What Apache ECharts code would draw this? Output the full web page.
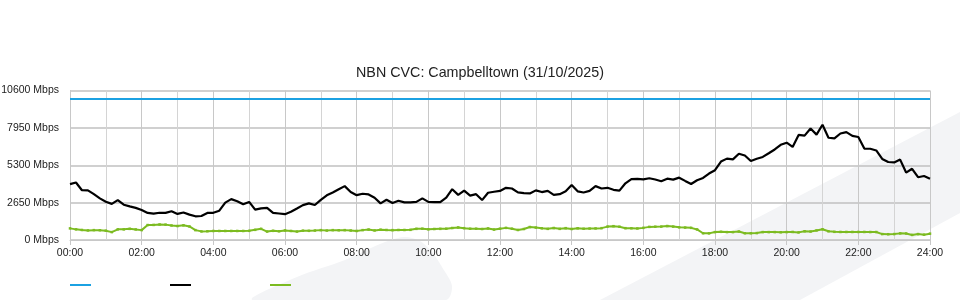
<!DOCTYPE html>
<html>
<head>
<meta charset="utf-8">
<script src="https://cdn.jsdelivr.net/npm/echarts@6/dist/echarts.min.js"></script>
<style>
html,body{margin:0;padding:0;background:#fff;}
#chart{width:960px;height:300px;}
</style>
</head>
<body>
<div id="chart"></div>
<script>
const titleText = 'NBN CVC: Campbelltown (31/10/2025)';
const seriesNames = ['Capacity', 'Inbound', 'Outbound'];
const xTickLabels = ['00:00','02:00','04:00','06:00','08:00','10:00','12:00','14:00','16:00','18:00','20:00','22:00','24:00'];
const yTickLabels = ['0 Mbps','2650 Mbps','5300 Mbps','7950 Mbps','10600 Mbps'];
const stepMinutes = 10;
const capacity = [10000, 10000];
const capacityTimes = [0, 1440];
// inbound Mbps, every 10 minutes from 00:00 to 24:00
const inbound = [
3960,4080,3530,3520,3250,2950,
2710,2560,2830,2500,2380,2280,
2130,1920,1870,1930,1920,2040,
1850,1950,1800,1680,1700,1920,
1930,2080,2650,2900,2750,2530,
2700,2150,2240,2280,1920,1880,
1830,2000,2230,2470,2600,2480,
2850,3170,3370,3600,3820,3400,
3180,3280,3230,3000,2600,2850,
2620,2780,2670,2670,2700,2950,
2700,2680,2680,3000,3600,3200,
3500,3150,3250,2830,3350,3420,
3480,3700,3650,3380,3330,3300,
3520,3400,3480,3200,3250,3450,
3900,3450,3370,3480,3820,3650,
3700,3560,3500,4020,4320,4330,
4300,4380,4290,4170,4350,4280,
4420,4190,3970,4240,4400,4710,
4950,5560,5770,5720,6120,5990,
5600,5760,5890,6150,6420,6750,
6900,6600,7450,7400,7900,7470,
8170,7250,7200,7550,7650,7380,
7300,6480,6470,6350,5750,5530,
5500,5700,4780,5050,4450,4540,
4350];
// outbound Mbps, every 10 minutes
const outbound = [
824,754,710,680,700,690,
660,560,754,754,790,750,
700,1060,1070,1100,1090,1030,
990,1040,960,700,610,620,
640,640,640,640,640,640,
650,720,790,600,650,620,
680,640,600,660,650,670,
700,670,700,690,700,670,
640,700,740,680,730,710,
700,710,710,720,790,800,
760,780,790,800,850,890,
840,800,800,780,820,740,
800,860,800,710,780,920,
880,830,790,850,790,840,
780,830,800,810,820,840,
950,980,940,840,830,820,
860,930,940,950,990,950,
900,880,860,750,480,470,
560,580,560,560,600,480,
480,490,560,560,560,550,
560,570,540,620,600,680,
760,620,580,570,570,570,
570,570,565,565,420,410,
420,470,460,360,420,380,
450];

const colors = ['#1ba1e2', '#000000', '#7cbb21'];
const toPairs = (vals) => vals.map((v, i) => [i * stepMinutes, v]);
const capPairs = capacity.map((v, i) => [capacityTimes[i], v]);

const chart = echarts.init(document.getElementById('chart'), null, {renderer: 'canvas'});
const font = '"Liberation Sans", Arial, sans-serif';
chart.setOption({
  animation: false,
  backgroundColor: '#ffffff',
  title: {
    text: titleText, left: 'center', top: 61,
    textStyle: {fontFamily: font, fontSize: 14.3, fontWeight: 'normal', color: '#222'}
  },
  graphic: {elements: [
    {type: 'polygon', z: -100, silent: true,
     shape: {points: [[600,300],[960,112],[960,213],[800,300]]},
     style: {fill: '#f3f4f6'}},
    {type: 'polygon', z: -100, silent: true,
     shape: {points: [[253,300],[297,277],[345,260],[380,244],[404,237],[420,241],[432,252],[442,267],[452,286],[446,300]], smooth: 0.3},
     style: {fill: '#f3f4f6'}}
  ]},
  legend: {
    left: 65, top: 279, itemWidth: 21, itemHeight: 2, itemGap: 79, icon: 'rect',
    formatter: () => '', selectedMode: false,
    data: seriesNames.map((n, i) => ({name: n, itemStyle: {color: colors[i]}}))
  },
  grid: {left: 70, right: 30, top: 90.5, bottom: 60, containLabel: false, outerBoundsMode: 'none'},
  xAxis: {
    type: 'value', min: 0, max: 1440, interval: 120,
    axisLine: {show: true, lineStyle: {color: '#c8c8c8'}},
    axisTick: {show: true, length: 5, lineStyle: {color: '#c8c8c8'}},
    axisLabel: {margin: 8, fontFamily: font, fontSize: 10.5, color: '#222',
      formatter: (v) => xTickLabels[Math.round(v / 120)]},
    splitLine: {show: true, lineStyle: {color: '#c8c8c8', width: 1}},
    minorTick: {show: false, splitNumber: 2},
    minorSplitLine: {show: true, lineStyle: {color: '#d4d4d4', width: 1}}
  },
  yAxis: {
    type: 'value', min: 0, max: 10600, interval: 2650,
    axisLine: {show: true, lineStyle: {color: '#c8c8c8'}},
    axisTick: {show: false},
    axisLabel: {margin: 11, fontFamily: font, fontSize: 10.5, color: '#222',
      formatter: (v) => yTickLabels[Math.round(v / 2650)]},
    splitLine: {show: true, lineStyle: {color: '#c0c0c0', width: 1.5}}
  },
  series: [
    {name: seriesNames[0], type: 'line', data: capPairs, showSymbol: false,
     lineStyle: {color: colors[0], width: 2}, itemStyle: {color: colors[0]}, z: 3},
    {name: seriesNames[1], type: 'line', data: toPairs(inbound), showSymbol: false,
     lineStyle: {color: colors[1], width: 2.2}, itemStyle: {color: colors[1]}, z: 4},
    {name: seriesNames[2], type: 'line', data: toPairs(outbound), symbol: 'rect', symbolSize: 2.5,
     showSymbol: true, lineStyle: {color: colors[2], width: 2}, itemStyle: {color: colors[2]}, z: 3}
  ]
});
</script>
</body>
</html>
